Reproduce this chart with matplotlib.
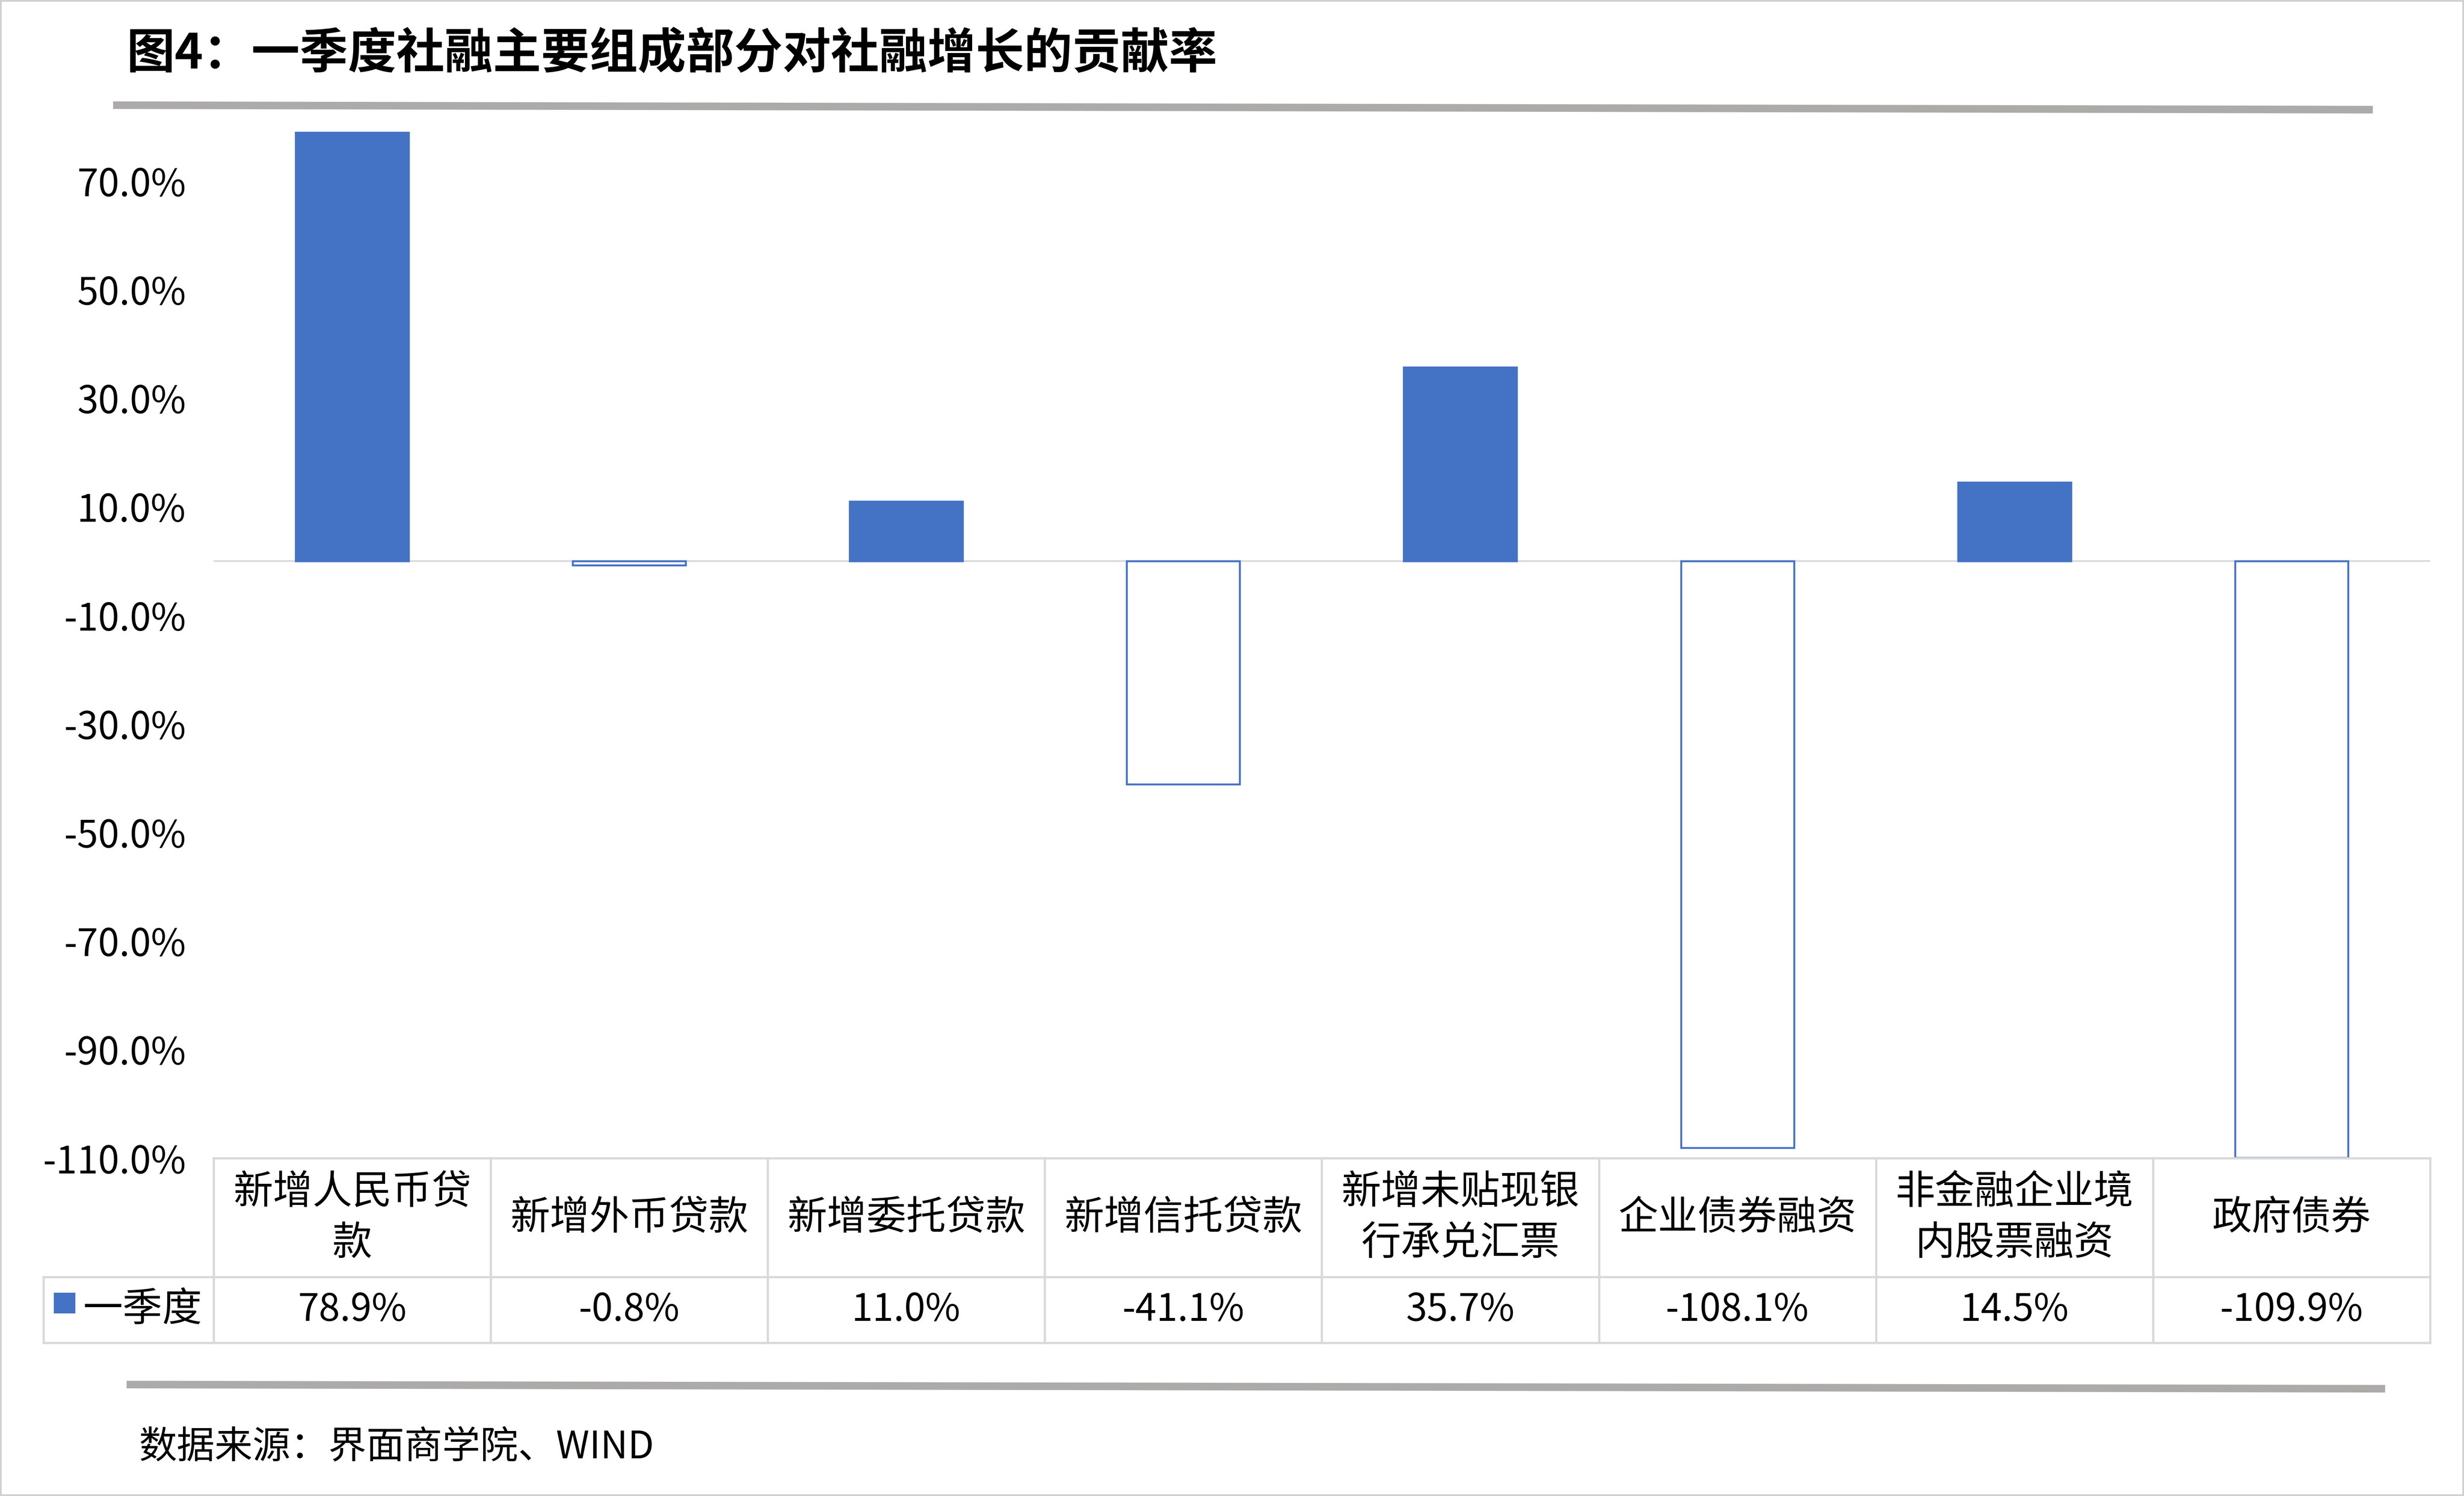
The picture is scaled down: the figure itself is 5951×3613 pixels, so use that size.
import textwrap
import matplotlib
matplotlib.use('Agg')
import matplotlib.pyplot as plt
import matplotlib.transforms as mtransforms
from matplotlib.lines import Line2D
from matplotlib.patches import Rectangle

# data
categories = ['新增人民币贷款', '新增外币贷款', '新增委托贷款', '新增信托贷款',
              '新增未贴现银行承兑汇票', '企业债券融资', '非金融企业境内股票融资', '政府债券']
values = [78.9, -0.8, 11.0, -41.1, 35.7, -108.1, 14.5, -109.9]
series_name = '一季度'
yticks = [-110, -90, -70, -50, -30, -10, 10, 30, 50, 70]
title = '图4：一季度社融主要组成部分对社融增长的贡献率'
source = '数据来源：界面商学院、WIND'

plt.rcParams['font.family'] = ['Noto Sans CJK SC', 'DejaVu Sans']

blue = '#4472C4'
gridc = '#D9D9D9'
sepc = '#ADAAAA'

fig = plt.figure(figsize=(5951 / 300, 3613 / 300), dpi=300)

# plot area
left, right, bottom, top = 0.0867, 0.9862, 0.2258, 0.9153
ax = fig.add_axes([left, bottom, right - left, top - bottom])
x = list(range(len(categories)))
ax.bar(x, values, width=0.408,
       color=[blue if v >= 0 else 'white' for v in values],
       edgecolor=blue, linewidth=1.1, zorder=3)
ax.axhline(0, color=gridc, lw=1.0, zorder=2)
ax.set_xlim(-0.5, len(categories) - 0.5)
ax.set_ylim(-110, 80)
ax.set_yticks(yticks)
ax.set_yticklabels([f'{t:.1f}%' for t in yticks])
ax.tick_params(axis='y', length=0, pad=16, labelsize=22)
ax.set_xticks([])
for s in ax.spines.values():
    s.set_visible(False)

# data table under the plot
trans = mtransforms.blended_transform_factory(ax.transData, fig.transFigure)
y_top, y_mid, y_bot = 0.2258, 0.1464, 0.1024
leg_left = 0.0176

fig.add_artist(Line2D([left, right], [y_top, y_top], color=gridc, lw=1.3, transform=fig.transFigure))
for yy in (y_mid, y_bot):
    fig.add_artist(Line2D([leg_left, right], [yy, yy], color=gridc, lw=1.3, transform=fig.transFigure))
fig.add_artist(Line2D([leg_left, leg_left], [y_bot, y_mid], color=gridc, lw=1.3, transform=fig.transFigure))
for i in range(len(categories) + 1):
    b = i - 0.5
    fig.add_artist(Line2D([b, b], [y_bot, y_top], color=gridc, lw=1.3, transform=trans))

for i, (cat, v) in enumerate(zip(categories, values)):
    fig.text(i, (y_top + y_mid) / 2, '\n'.join(textwrap.wrap(cat, 6)), transform=trans,
             ha='center', va='center', fontsize=23, linespacing=1.3)
    fig.text(i, (y_mid + y_bot) / 2, f'{v:.1f}%', transform=trans,
             ha='center', va='center', fontsize=22)

# legend key in the table
fig.add_artist(Rectangle((0.0218, 0.1221), 0.0087, 0.0138, facecolor=blue,
                         edgecolor='none', transform=fig.transFigure))
fig.text(0.0338, (y_mid + y_bot) / 2, series_name, ha='left', va='center', fontsize=23)

# title, separators, source
fig.text(0.0514, 0.964, title, ha='left', va='center', fontsize=28, fontweight='bold')
fig.add_artist(Line2D([0.0459, 0.963], [0.9297, 0.9267], color=sepc, lw=4.4,
                      solid_capstyle='butt', transform=fig.transFigure))
fig.add_artist(Line2D([0.0514, 0.968], [0.0745, 0.0717], color=sepc, lw=4.4,
                      solid_capstyle='butt', transform=fig.transFigure))
fig.text(0.0563, 0.0327, source, ha='left', va='center', fontsize=22)

# thin frame around the picture
fig.add_artist(Rectangle((0, 0), 1, 1, fill=False, edgecolor='#D0D0D0', lw=2,
                         transform=fig.transFigure))

fig.savefig('out.png', dpi=300)
